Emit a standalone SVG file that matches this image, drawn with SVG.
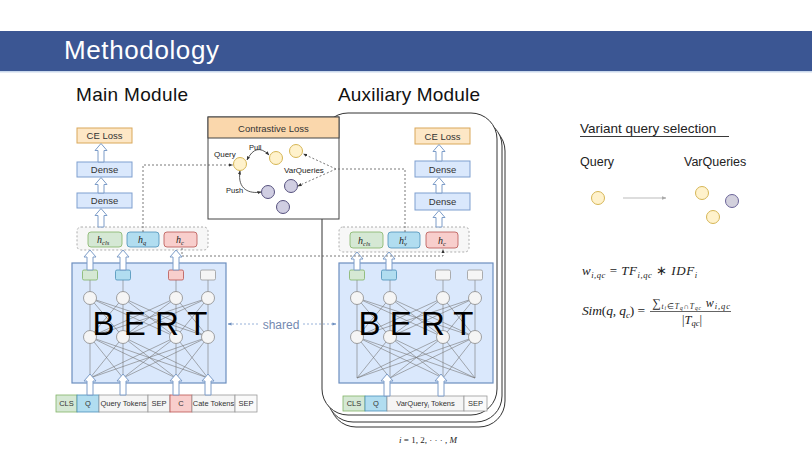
<svg xmlns="http://www.w3.org/2000/svg" width="812" height="454" viewBox="0 0 812 454">
<defs>
<style>
.sans{font-family:"Liberation Sans",Arial,Helvetica,sans-serif}
.math{font-family:"Liberation Serif","Times New Roman",serif;font-style:italic}
.rm{font-style:normal}
.orange{fill:#fde7c6;stroke:#d9a85b;stroke-width:1}
.dense{fill:#dae8fc;stroke:#7f9fcf;stroke-width:1}
.hollow{fill:#fff;stroke:#7c9cc8;stroke-width:1}
.dot{fill:none;stroke:#555;stroke-width:0.8;stroke-dasharray:2 2}
.net{stroke:#777;stroke-width:0.6;fill:none}
.node{fill:#f5f5f5;stroke:#8a8a8a;stroke-width:0.8}
.g{fill:#d5e8d4;stroke:#82b366;stroke-width:0.8}
.b{fill:#b1ddf0;stroke:#4a90b8;stroke-width:0.8}
.r{fill:#f8cecc;stroke:#b85450;stroke-width:0.8}
.w{fill:#f5f5f5;stroke:#999;stroke-width:0.8}
.yel{fill:#fff2cc;stroke:#d6b656;stroke-width:1}
.pur{fill:#d0cee2;stroke:#56517e;stroke-width:1}
.lbl{font-size:9.5px;fill:#333;text-anchor:middle}
.tok{font-size:7.5px;fill:#333;text-anchor:middle}
.hbox{fill:#f7f7f7;stroke:#999;stroke-width:0.8;stroke-dasharray:2 2}
.bert{fill:#dae8fc;stroke:#6c8ebf;stroke-width:1.2}
.bertt{font-size:33px;fill:#000;text-anchor:middle}
.card{fill:#fff;stroke:#333;stroke-width:1}
.curve{fill:none;stroke:#333;stroke-width:0.8}
</style>
<marker id="ah" viewBox="0 0 10 10" refX="9" refY="5" markerWidth="5" markerHeight="5" orient="auto-start-reverse">
<path d="M0,1 L10,5 L0,9 Z" fill="#333"/>
</marker>
<marker id="ahb" viewBox="0 0 10 10" refX="9" refY="5" markerWidth="5" markerHeight="5" orient="auto-start-reverse">
<path d="M0,1 L10,5 L0,9 Z" fill="#6c8ebf"/>
</marker>
<marker id="ahg" viewBox="0 0 10 10" refX="9" refY="5" markerWidth="6" markerHeight="6" orient="auto">
<path d="M0,1 L10,5 L0,9 Z" fill="#aaa"/>
</marker>
<g id="net">
<rect class="bert" x="72" y="263" width="154" height="120"/>
<g class="net">
<path d="M90,280V298M123,280V298M176,280V298M208,280V298"/>
<path d="M90,337L90,298M90,337L123,298M90,337L176,298M90,337L208,298"/>
<path d="M123,337L90,298M123,337L123,298M123,337L176,298M123,337L208,298"/>
<path d="M176,337L90,298M176,337L123,298M176,337L176,298M176,337L208,298"/>
<path d="M208,337L90,298M208,337L123,298M208,337L176,298M208,337L208,298"/>
<path d="M90,378L90,337M90,378L123,337M90,378L176,337M90,378L208,337"/>
<path d="M123,378L90,337M123,378L123,337M123,378L176,337M123,378L208,337"/>
<path d="M176,378L90,337M176,378L123,337M176,378L176,337M176,378L208,337"/>
<path d="M208,378L90,337M208,378L123,337M208,378L176,337M208,378L208,337"/>
</g>
<circle class="node" cx="90" cy="298" r="6.5"/><circle class="node" cx="123" cy="298" r="6.5"/><circle class="node" cx="176" cy="298" r="6.5"/><circle class="node" cx="208" cy="298" r="6.5"/>
<circle class="node" cx="90" cy="337" r="6.5"/><circle class="node" cx="123" cy="337" r="6.5"/><circle class="node" cx="176" cy="337" r="6.5"/><circle class="node" cx="208" cy="337" r="6.5"/>
</g>
</defs>

<rect width="812" height="454" fill="#fff"/>
<g id="header">
<rect x="0" y="31" width="812" height="40" fill="#3b5693"/>
<rect x="0" y="71" width="812" height="1.5" fill="#c9d8ec"/>
<text class="sans" x="64" y="59" font-size="26" fill="#fff" textLength="155">Methodology</text>
</g>
<text class="sans" x="76" y="101" font-size="19" fill="#111" textLength="112">Main Module</text>
<text class="sans" x="338" y="101" font-size="19" fill="#111" textLength="142">Auxiliary Module</text>

<!-- Auxiliary module stacked cards -->
<g id="aux-cards">
<rect class="card" x="330" y="125" width="175" height="302" rx="26"/>
<rect class="card" x="327" y="120" width="175" height="302" rx="26"/>
<rect class="card" x="322" y="113" width="175" height="302" rx="26"/>
</g>

<!-- Main module -->
<g id="main-ce"><rect class="orange" x="77" y="128" width="55" height="15"/><text class="sans lbl" x="104.5" y="139">CE Loss</text></g>
<g id="main-dense1"><rect class="dense" x="77" y="162" width="55" height="15"/><text class="sans lbl" x="104.5" y="173">Dense</text></g>
<g id="main-dense2"><rect class="dense" x="77" y="193" width="55" height="15"/><text class="sans lbl" x="104.5" y="204">Dense</text></g>
<g id="main-h">
<rect class="hbox" x="77" y="227" width="131" height="23" rx="4"/>
<rect class="g" x="88" y="232" width="34" height="15" rx="3"/>
<rect class="b" x="127" y="232" width="32" height="15" rx="3"/>
<rect class="r" x="164" y="232" width="33" height="15" rx="3"/>
<text class="math" x="97" y="243" font-size="10" fill="#222">h<tspan font-size="6.5" dy="1.5">cls</tspan></text>
<text class="math" x="138" y="243" font-size="10" fill="#222">h<tspan font-size="6.5" dy="1.5">q</tspan></text>
<text class="math" x="176" y="243" font-size="10" fill="#222">h<tspan font-size="6.5" dy="1.5">c</tspan></text>
</g>
<g id="main-bert">
<use href="#net"/>
<rect class="g" x="82.5" y="270" width="15" height="10" rx="1.5"/>
<rect class="b" x="115.5" y="270" width="15" height="10" rx="1.5"/>
<rect class="r" x="168.5" y="270" width="15" height="10" rx="1.5"/>
<rect class="w" x="200.5" y="270" width="15" height="10" rx="1.5"/>
<text class="sans bertt" x="150" y="335">B E R T</text>
</g>
<g id="main-tokens" class="sans">
<rect class="g" x="56" y="395" width="21" height="17"/><text class="tok" x="66.5" y="406">CLS</text>
<rect class="b" x="77" y="395" width="22" height="17"/><text class="tok" x="88" y="406">Q</text>
<rect class="w" x="99" y="395" width="49" height="17"/><text class="tok" x="123.5" y="406">Query Tokens</text>
<rect class="w" x="148" y="395" width="22" height="17"/><text class="tok" x="159" y="406">SEP</text>
<rect class="r" x="170" y="395" width="22" height="17"/><text class="tok" x="181" y="406">C</text>
<rect class="w" x="192" y="395" width="43" height="17"/><text class="tok" x="213.5" y="406">Cate Tokens</text>
<rect x="235" y="395" width="22" height="17" fill="#fafafa" stroke="#999" stroke-width="0.8"/><text class="tok" x="246" y="406" font-size="6.5">SEP</text>
</g>

<!-- Auxiliary module content -->
<g id="aux-ce"><rect class="orange" x="415" y="128" width="55" height="16"/><text class="sans lbl" x="442.5" y="139.5">CE Loss</text></g>
<g id="aux-dense1"><rect class="dense" x="415" y="161" width="55" height="16"/><text class="sans lbl" x="442.5" y="172.5">Dense</text></g>
<g id="aux-dense2"><rect class="dense" x="415" y="193" width="55" height="17"/><text class="sans lbl" x="442.5" y="205">Dense</text></g>
<g id="aux-h">
<rect class="hbox" x="339" y="227" width="130" height="25" rx="4"/>
<rect class="g" x="350" y="232" width="33" height="16" rx="3"/>
<rect class="b" x="388" y="232" width="32" height="16" rx="3"/>
<rect class="r" x="426" y="232" width="32" height="16" rx="3"/>
<text class="math" x="358" y="244" font-size="10" fill="#222">h<tspan font-size="6.5" dy="1.5">cls</tspan></text>
<text class="math" x="399" y="244" font-size="10" fill="#222">h<tspan font-size="6.5" dy="1.5">v</tspan></text>
<text class="math" x="404.5" y="239.5" font-size="6.5" fill="#222">i</text>
<text class="math" x="438" y="244" font-size="10" fill="#222">h<tspan font-size="6.5" dy="1.5">c</tspan></text>
</g>
<g id="aux-bert">
<use href="#net" x="267"/>
<rect class="g" x="349.5" y="270" width="15" height="10" rx="1.5"/>
<rect class="b" x="381.5" y="270" width="15" height="10" rx="1.5"/>
<rect class="w" x="435.5" y="270" width="15" height="10" rx="1.5"/>
<rect class="w" x="467.5" y="270" width="15" height="10" rx="1.5"/>
<text class="sans bertt" x="416" y="335">B E R T</text>
</g>
<g id="aux-tokens" class="sans">
<rect class="g" x="343" y="396" width="22" height="15"/><text class="tok" x="354" y="406">CLS</text>
<rect class="b" x="365" y="396" width="22" height="15"/><text class="tok" x="376" y="406">Q</text>
<rect class="w" x="387" y="396" width="77" height="15"/><text class="tok" x="425.5" y="406">VarQuery<tspan font-size="5.5" dy="1.5">i</tspan><tspan dy="-1.5"> Tokens</tspan></text>
<rect x="464" y="396" width="23" height="15" fill="#fafafa" stroke="#999" stroke-width="0.8"/><text class="tok" x="475.5" y="406">SEP</text>
</g>
<text class="math" x="428" y="443" font-size="9" text-anchor="middle" fill="#222">i<tspan class="rm"> = 1, 2, · · · , </tspan>M</text>

<!-- Contrastive loss -->
<g id="contrastive">
<rect x="208" y="117" width="131" height="102" fill="#fff" stroke="#444" stroke-width="1"/>
<rect x="208" y="117" width="131" height="21" fill="#fad7ac" stroke="#444" stroke-width="1"/>
<text class="sans" x="273.5" y="131.5" font-size="9.5" fill="#333" text-anchor="middle">Contrastive Loss</text>
<circle class="yel" cx="240" cy="164" r="6.5"/>
<circle class="yel" cx="276" cy="158" r="6.5"/>
<circle class="yel" cx="296" cy="151" r="6.5"/>
<circle class="pur" cx="291" cy="186" r="6.5"/>
<circle class="pur" cx="268" cy="192" r="6.5"/>
<circle class="pur" cx="283" cy="207" r="6.5"/>
<text class="sans" x="214" y="157" font-size="8" fill="#222">Query</text>
<text class="sans" x="249" y="150" font-size="7.5" fill="#222">Pull</text>
<text class="sans" x="226" y="193" font-size="7.5" fill="#222">Push</text>
<text class="sans" x="284" y="173" font-size="8" fill="#222">VarQueries</text>
<path class="curve" d="M247,160 Q256,142 269,155" marker-start="url(#ah)" marker-end="url(#ah)"/>
<path class="curve" d="M240,171 C237,190 250,194 261,192" marker-start="url(#ah)" marker-end="url(#ah)"/>
</g>

<!-- Right panel -->
<g id="variant-selection">
<text class="sans" x="580" y="133" font-size="13.5" fill="#222">Variant query selection</text>
<line x1="580" y1="136.5" x2="729" y2="136.5" stroke="#222" stroke-width="0.9"/>
<text class="sans" x="580" y="166" font-size="12.5" fill="#222">Query</text>
<text class="sans" x="684" y="166" font-size="12.5" fill="#222">VarQueries</text>
<circle class="yel" cx="598" cy="198" r="6.5"/>
<circle class="yel" cx="702" cy="193" r="6.5"/>
<circle cx="732" cy="201" r="6.5" fill="#d3d1dd" stroke="#6a6499" stroke-width="1"/>
<circle class="yel" cx="713" cy="217" r="6.5"/>
<line x1="623" y1="198" x2="666" y2="198" stroke="#aaa" stroke-width="0.8" marker-end="url(#ahg)"/>
</g>
<g id="formulas" class="math" fill="#222">
<text x="582" y="275" font-size="13" textLength="115">w<tspan font-size="8.5" dy="2.5">i,qc</tspan><tspan class="rm" dy="-2.5"> = </tspan>TF<tspan font-size="8.5" dy="2.5">i,qc</tspan><tspan class="rm" dy="-2.5"> ∗ </tspan>IDF<tspan font-size="8.5" dy="2.5">i</tspan></text>
<text x="582" y="315" font-size="13.5" textLength="63">Sim<tspan class="rm">(</tspan>q<tspan class="rm">, </tspan>q<tspan font-size="9" dy="2.5">c</tspan><tspan class="rm" dy="-2.5">) =</tspan></text>
<text x="652" y="307" font-size="12" textLength="78"><tspan class="rm">∑</tspan><tspan font-size="7.5" dy="2">t<tspan font-size="5.5" dy="1">i</tspan><tspan class="rm" dy="-1">∈</tspan>T<tspan font-size="5.5" dy="1">q</tspan><tspan class="rm" dy="-1">∩</tspan>T<tspan font-size="5.5" dy="1">qc</tspan></tspan><tspan dy="-3"> w</tspan><tspan font-size="8.5" dy="2">i,qc</tspan></text>
<line x1="650" y1="311.5" x2="731" y2="311.5" stroke="#222" stroke-width="0.7"/>
<text x="692" y="324" font-size="12.5" text-anchor="middle"><tspan class="rm">|</tspan>T<tspan font-size="8.5" dy="2">qc</tspan><tspan class="rm" dy="-2">|</tspan></text>
</g>

<!-- Connectors -->
<g id="connectors">
<path class="hollow" d="M101,143.5 L107,150.5 L104,150.5 L104,162 L98,162 L98,150.5 L95,150.5 Z"/>
<path class="hollow" d="M101,177.5 L107,184.5 L104,184.5 L104,193 L98,193 L98,184.5 L95,184.5 Z"/>
<path class="hollow" d="M101,208.5 L107,215.5 L104,215.5 L104,227 L98,227 L98,215.5 L95,215.5 Z"/>
<path class="hollow" d="M439,144.5 L445,151.5 L442,151.5 L442,161 L436,161 L436,151.5 L433,151.5 Z"/>
<path class="hollow" d="M439,177.5 L445,184.5 L442,184.5 L442,193 L436,193 L436,184.5 L433,184.5 Z"/>
<path class="hollow" d="M439,210.5 L445,217.5 L442,217.5 L442,227 L436,227 L436,217.5 L433,217.5 Z"/>
<path class="hollow" d="M90,250 L96,257 L93,257 L93,270 L87,270 L87,257 L84,257 Z"/>
<path class="hollow" d="M123,250 L129,257 L126,257 L126,270 L120,270 L120,257 L117,257 Z"/>
<path class="hollow" d="M176,250 L182,257 L179,257 L179,270 L173,270 L173,257 L170,257 Z"/>
<path class="hollow" d="M357,252 L363,259 L360,259 L360,270 L354,270 L354,259 L351,259 Z"/>
<path class="hollow" d="M389,252 L395,259 L392,259 L392,270 L386,270 L386,259 L383,259 Z"/>
<path class="hollow" d="M90,374 L96,381 L93,381 L93,395 L87,395 L87,381 L84,381 Z"/>
<path class="hollow" d="M123,374 L129,381 L126,381 L126,395 L120,395 L120,381 L117,381 Z"/>
<path class="hollow" d="M176,374 L182,381 L179,381 L179,395 L173,395 L173,381 L170,381 Z"/>
<path class="hollow" d="M208,374 L214,381 L211,381 L211,395 L205,395 L205,381 L202,381 Z"/>
<path class="hollow" d="M387,374 L393,381 L390,381 L390,396 L384,396 L384,381 L381,381 Z"/>
<path class="hollow" d="M441,374 L447,381 L444,381 L444,396 L438,396 L438,381 L435,381 Z"/>
<path class="dot" d="M143,232 V165 H232.5" marker-end="url(#ah)"/>
<path class="dot" d="M405,232 V169 H336 L303.5,154" marker-end="url(#ah)"/>
<path class="dot" d="M336,169 L298,186" marker-end="url(#ah)"/>
<path class="dot" d="M182,248 V256 H443 V249.5" marker-end="url(#ah)"/>
<path d="M228,324 H259" fill="none" stroke="#7f9fcf" stroke-width="0.8" stroke-dasharray="2 2" marker-start="url(#ahb)"/>
<path d="M303,324 H336" fill="none" stroke="#7f9fcf" stroke-width="0.8" stroke-dasharray="2 2" marker-end="url(#ahb)"/>
<text class="sans" x="281" y="328.5" font-size="12" fill="#7489b0" text-anchor="middle">shared</text>
</g>
</svg>
